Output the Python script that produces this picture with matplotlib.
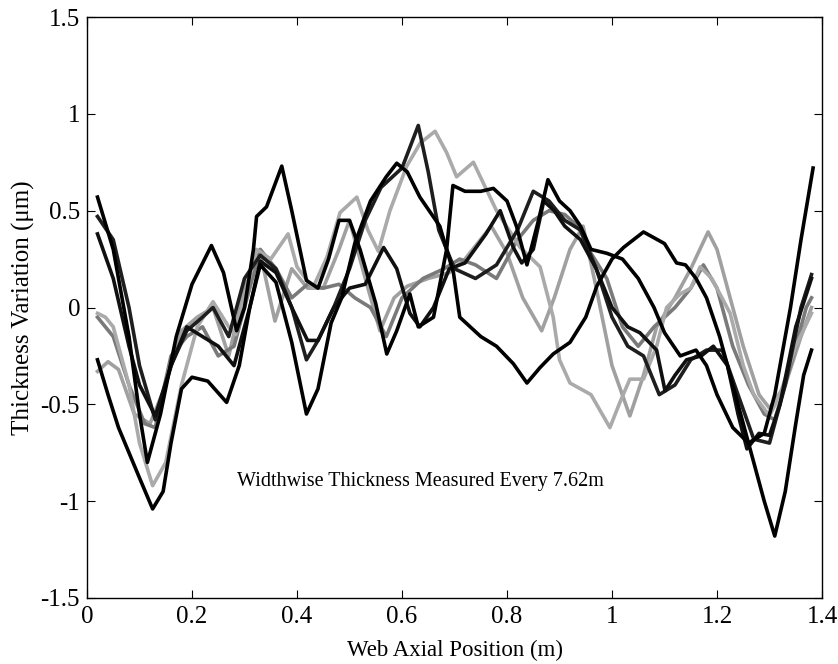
import matplotlib
matplotlib.use('Agg')
import matplotlib.pyplot as plt

x1 = [0.02, 0.04, 0.06, 0.08, 0.10, 0.125, 0.145, 0.16, 0.18, 0.20, 0.23, 0.266, 0.29, 0.31, 0.33,
      0.36, 0.39, 0.418, 0.44, 0.465, 0.485, 0.51, 0.54, 0.57, 0.59, 0.61, 0.634, 0.672, 0.698, 0.71,
      0.75, 0.78, 0.812, 0.838, 0.863, 0.888, 0.92, 0.95, 0.971, 1.0, 1.022, 1.06, 1.08, 1.10, 1.123,
      1.14, 1.16, 1.18, 1.205, 1.23, 1.25, 1.27, 1.29, 1.31, 1.33, 1.35, 1.365, 1.38]
y1 = [-0.27, -0.45, -0.62, -0.75, -0.88, -1.04, -0.95, -0.70, -0.42, -0.36, -0.38, -0.49, -0.30, 0.0, 0.22,
      0.13, -0.18, -0.55, -0.42, -0.08, 0.05, 0.33, 0.55, 0.675, 0.745, 0.70, 0.57, 0.42, 0.18, -0.05,
      -0.15, -0.20, -0.29, -0.39, -0.31, -0.24, -0.18, -0.05, 0.11, 0.25, 0.31, 0.39, 0.36, 0.33, 0.23,
      0.22, 0.15, 0.05, -0.15, -0.40, -0.60, -0.80, -1.00, -1.18, -0.95, -0.60, -0.35, -0.22]

x2 = [0.02, 0.05, 0.08, 0.10, 0.115, 0.14, 0.17, 0.20, 0.237, 0.26, 0.285, 0.30, 0.317, 0.323, 0.342,
      0.371, 0.39, 0.418, 0.44, 0.46, 0.48, 0.50, 0.52, 0.55, 0.571, 0.59, 0.615, 0.631, 0.66, 0.685,
      0.697, 0.72, 0.75, 0.774, 0.80, 0.818, 0.838, 0.86, 0.878, 0.90, 0.92, 0.94, 0.96, 0.99, 1.02,
      1.05, 1.08, 1.10, 1.13, 1.16, 1.18, 1.20, 1.23, 1.26, 1.29, 1.31, 1.34, 1.36, 1.383]
y2 = [0.57, 0.30, -0.15, -0.55, -0.80, -0.55, -0.15, 0.12, 0.32, 0.18, -0.12, 0.0, 0.30, 0.47, 0.52,
      0.73, 0.50, 0.14, 0.10, 0.25, 0.45, 0.45, 0.30, 0.02, -0.24, -0.12, 0.07, -0.10, -0.05, 0.30,
      0.63, 0.60, 0.60, 0.615, 0.55, 0.42, 0.22, 0.45, 0.66, 0.55, 0.50, 0.42, 0.30, 0.28, 0.25,
      0.15, 0.0, -0.13, -0.25, -0.22, -0.30, -0.45, -0.62, -0.70, -0.65, -0.45, 0.0, 0.35, 0.72]

x3 = [0.02, 0.05, 0.08, 0.10, 0.13, 0.16, 0.19, 0.22, 0.24, 0.27, 0.30, 0.33, 0.36, 0.39, 0.418,
      0.44, 0.47, 0.50, 0.53, 0.56, 0.60, 0.631, 0.65, 0.67, 0.70, 0.74, 0.78, 0.82, 0.85, 0.88,
      0.91, 0.94, 0.97, 1.0, 1.03, 1.06, 1.09, 1.12, 1.15, 1.18, 1.21, 1.24, 1.27, 1.30, 1.33,
      1.36, 1.38]
y3 = [0.47, 0.35, 0.0, -0.30, -0.58, -0.30, -0.12, -0.05, 0.0, -0.15, 0.15, 0.27, 0.20, 0.0, -0.27,
      -0.17, 0.0, 0.20, 0.45, 0.62, 0.72, 0.94, 0.70, 0.40, 0.20, 0.15, 0.22, 0.40, 0.60, 0.55,
      0.45, 0.40, 0.20, -0.05, -0.20, -0.25, -0.45, -0.40, -0.27, -0.22, -0.22, -0.45, -0.68, -0.70, -0.40,
      0.0, 0.17]

x4 = [0.02, 0.035, 0.05, 0.08, 0.10, 0.125, 0.15, 0.18, 0.21, 0.24, 0.27, 0.283, 0.30, 0.323, 0.35,
      0.383, 0.40, 0.43, 0.457, 0.482, 0.514, 0.535, 0.555, 0.577, 0.609, 0.635, 0.663, 0.685, 0.704, 0.736,
      0.78, 0.825, 0.863, 0.888, 0.90, 0.92, 0.96, 0.996, 1.015, 1.034, 1.06, 1.085, 1.104, 1.13, 1.15,
      1.168, 1.19, 1.225, 1.25, 1.27, 1.30, 1.32, 1.35, 1.38]
y4 = [-0.03, -0.05, -0.10, -0.40, -0.70, -0.92, -0.80, -0.40, -0.10, 0.03, -0.10, -0.14, 0.05, 0.30, 0.25,
      0.38, 0.21, 0.10, 0.26, 0.49, 0.57, 0.40, 0.29, 0.50, 0.73, 0.85, 0.91, 0.80, 0.675, 0.75,
      0.50, 0.31, 0.21, -0.05, -0.27, -0.39, -0.45, -0.62, -0.49, -0.37, -0.37, -0.20, 0.0, 0.07, 0.10,
      0.21, 0.15, -0.03, -0.30, -0.45, -0.56, -0.45, -0.20, -0.03]

x5 = [0.02, 0.04, 0.06, 0.09, 0.12, 0.15, 0.18, 0.21, 0.24, 0.27, 0.30, 0.33, 0.358, 0.39, 0.42,
      0.45, 0.48, 0.50, 0.53, 0.558, 0.585, 0.61, 0.65, 0.69, 0.72, 0.77, 0.80, 0.83, 0.866, 0.89,
      0.92, 0.945, 0.97, 1.0, 1.034, 1.06, 1.085, 1.12, 1.15, 1.183, 1.20, 1.22, 1.25, 1.28, 1.30,
      1.33, 1.36, 1.38]
y5 = [-0.33, -0.28, -0.32, -0.55, -0.60, -0.40, -0.12, -0.05, 0.0, -0.25, 0.10, 0.28, -0.07, 0.20, 0.10,
      0.10, 0.30, 0.45, 0.15, -0.12, 0.05, 0.11, 0.15, 0.18, 0.25, 0.42, 0.28, 0.05, -0.12, 0.05,
      0.30, 0.42, 0.10, -0.30, -0.56, -0.35, -0.10, 0.05, 0.20, 0.39, 0.30, 0.10, -0.20, -0.45, -0.52,
      -0.40, -0.15, 0.0]

x6 = [0.02, 0.05, 0.08, 0.10, 0.13, 0.16, 0.19, 0.22, 0.25, 0.28, 0.31, 0.33, 0.36, 0.39, 0.42,
      0.44, 0.47, 0.50, 0.53, 0.565, 0.59, 0.615, 0.634, 0.66, 0.69, 0.72, 0.76, 0.787, 0.812, 0.828,
      0.85, 0.87, 0.89, 0.91, 0.94, 0.97, 1.0, 1.03, 1.053, 1.085, 1.101, 1.12, 1.142, 1.17, 1.193,
      1.22, 1.24, 1.257, 1.28, 1.30, 1.32, 1.35, 1.38]
y6 = [0.38, 0.15, -0.20, -0.40, -0.56, -0.30, -0.10, -0.15, -0.20, -0.30, 0.0, 0.24, 0.18, 0.0, -0.17,
      -0.17, 0.0, 0.10, 0.12, 0.31, 0.20, -0.03, -0.10, 0.0, 0.20, 0.23, 0.38, 0.50, 0.31, 0.23,
      0.30, 0.55, 0.50, 0.42, 0.35, 0.20, 0.0, -0.10, -0.13, -0.22, -0.43, -0.35, -0.27, -0.25, -0.20,
      -0.30, -0.55, -0.73, -0.65, -0.66, -0.50, -0.10, 0.15]

x7 = [0.02, 0.05, 0.08, 0.11, 0.13, 0.16, 0.19, 0.22, 0.25, 0.28, 0.31, 0.33, 0.36, 0.39, 0.42,
      0.45, 0.48, 0.51, 0.54, 0.57, 0.60, 0.64, 0.68, 0.71, 0.74, 0.78, 0.82, 0.85, 0.88, 0.91,
      0.935, 0.96, 0.99, 1.02, 1.05, 1.08, 1.12, 1.15, 1.174, 1.20, 1.23, 1.26, 1.29, 1.31, 1.34,
      1.37, 1.38]
y7 = [-0.05, -0.15, -0.40, -0.60, -0.62, -0.25, -0.15, -0.10, -0.25, -0.20, 0.10, 0.30, 0.20, 0.05, 0.12,
      0.10, 0.12, 0.05, 0.0, -0.15, 0.05, 0.15, 0.20, 0.25, 0.22, 0.15, 0.35, 0.45, 0.50, 0.48,
      0.42, 0.28, 0.15, -0.10, -0.20, -0.10, 0.0, 0.10, 0.22, 0.10, -0.20, -0.40, -0.55, -0.58, -0.30,
      0.0, 0.05]

series = [(x5, y5, '#a0a0a0'), (x7, y7, '#7a7a7a'), (x4, y4, '#aaaaaa'),
          (x3, y3, '#1e1e1e'), (x6, y6, '#101010'), (x2, y2, '#000000'), (x1, y1, '#000000')]

plt.rcParams['font.family'] = ['Liberation Serif', 'DejaVu Serif']
plt.rcParams['axes.unicode_minus'] = False

fig = plt.figure(figsize=(8.38, 6.64), dpi=100)
ax = fig.add_axes([87 / 838, 1 - 598 / 664, 735 / 838, 581 / 664])

for xs, ys, c in series:
    ax.plot(xs, ys, color=c, linewidth=2.6, solid_joinstyle='round')

ax.set_xlim(0, 1.4)
ax.set_ylim(-1.5, 1.5)
ax.set_xticks([0, 0.2, 0.4, 0.6, 0.8, 1.0, 1.2, 1.4])
ax.set_xticklabels(['0', '0.2', '0.4', '0.6', '0.8', '1', '1.2', '1.4'])
ax.set_yticks([-1.5, -1, -0.5, 0, 0.5, 1, 1.5])
ax.set_yticklabels(['-1.5', '-1', '-0.5', '0', '0.5', '1', '1.5'])
ax.tick_params(direction='in', top=True, right=True, length=6, labelsize=18)
ax.tick_params(axis='x', pad=6)
ax.tick_params(axis='y', pad=5)
for s in ax.spines.values():
    s.set_linewidth(1.0)

ax.set_xlabel('Web Axial Position (m)', fontsize=16.5, labelpad=8)
ax.set_ylabel('Thickness Variation (\u03bcm)', fontsize=18, labelpad=4)
ax.text(0.286, -0.90, 'Widthwise Thickness Measured Every 7.62m', fontsize=14.5, va='center')

fig.savefig('out.png', dpi=100)
